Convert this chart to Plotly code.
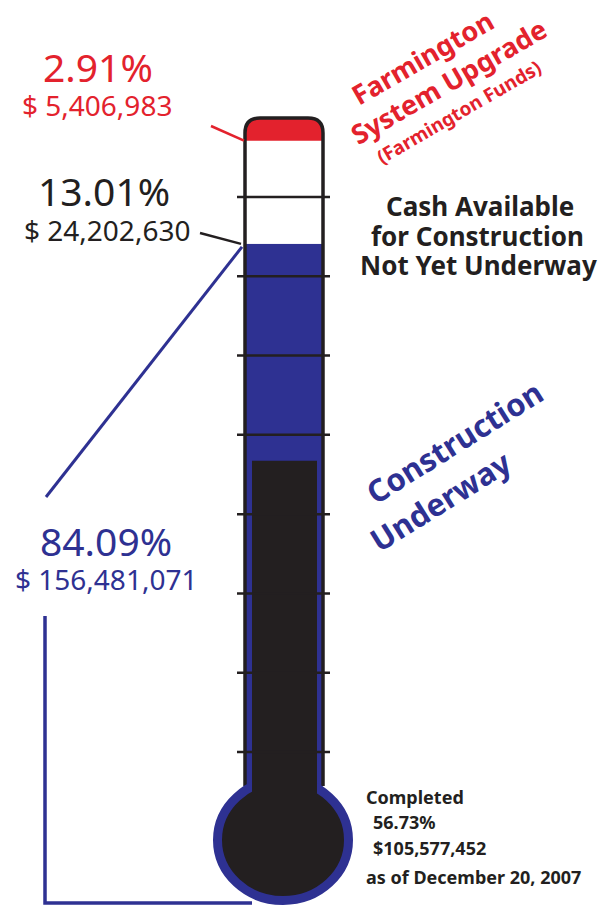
import math
import plotly.graph_objects as go

# ---------------- data ----------------
segment_names = ["Construction Underway",
                 "Cash Available for Construction Not Yet Underway",
                 "Farmington System Upgrade (Farmington Funds)"]
segment_pct = [84.09, 13.01, 2.91]
segment_amount = [156481071, 24202630, 5406983]
completed_pct = 56.73
completed_amount = 105577452
as_of = "December 20, 2007"
tick_levels = [10, 20, 30, 40, 50, 60, 70, 80, 90]

# ---------------- styles ----------------
RED = "#e3222d"
BLUE = "#2e3192"
BLACK = "#231f20"
FONT = "Noto Sans"
W, H = 610, 907

# percent axis: 0% sits at pixel 910.6, 7.929 px per percent
ZERO_PX, PX_PER = 910.6, 7.929
y_range = [(ZERO_PX - H) / PX_PER, ZERO_PX / PX_PER]


def px(p):
    return ZERO_PX - PX_PER * p


seg_colors = [BLUE, "white", RED]
bases = [0.0]
for v in segment_pct[:-1]:
    bases.append(round(bases[-1] + v, 2))

fig = go.Figure()
for name, v, b, c in zip(segment_names, segment_pct, bases, seg_colors):
    fig.add_trace(go.Bar(
        x=[284], y=[v], base=[b], width=[77], name=name,
        marker=dict(color=c, line=dict(width=0)), hoverinfo="skip"))
fig.add_trace(go.Bar(
    x=[284.5], y=[completed_pct], base=[0], width=[65], name="Completed",
    marker=dict(color=BLACK, line=dict(width=0)), hoverinfo="skip"))
# helper trace for the pixel axis
fig.add_trace(go.Scatter(x=[0], y=[0], yaxis="y2", mode="markers",
                         marker=dict(opacity=0), hoverinfo="skip"))

shapes = []
# white masks outside the rounded cap
shapes.append(dict(type="path", xref="x", yref="y2",
                   path="M 260,118 Q 245,118 245,133 L 242,133 L 242,114 L 260,114 Z",
                   fillcolor="white", line=dict(width=0), layer="above"))
shapes.append(dict(type="path", xref="x", yref="y2",
                   path="M 308,118 Q 323,118 323,133 L 326,133 L 326,114 L 308,114 Z",
                   fillcolor="white", line=dict(width=0), layer="above"))
# tube outline
shapes.append(dict(type="path", xref="x", yref="y2",
                   path="M 245,786 L 245,133 Q 245,118 260,118 L 308,118 Q 323,118 323,133 L 323,786",
                   line=dict(color=BLACK, width=3.5), layer="above"))
# scale ticks
for t in tick_levels:
    shapes.append(dict(type="line", xref="x", yref="y", x0=237, x1=330, y0=t, y1=t,
                       line=dict(color=BLACK, width=2.5), layer="above"))
# white mask below the bulb's lower arc
BCX, BCY, BRX, BRY = 283, 840, 70, 65
pts = []
for k in range(0, 21):
    xx = 243 + k * 4
    u = max(-1.0, min(1.0, (xx - BCX) / BRX))
    pts.append(f"{xx},{BCY + BRY * math.sqrt(1 - u * u) - 1:.1f}")
mask_path = "M " + " L ".join(pts) + " L 323,915 L 243,915 Z"
shapes.append(dict(type="path", xref="x", yref="y2", path=mask_path,
                   fillcolor="white", line=dict(width=0), layer="above"))
# bulb
shapes.append(dict(type="circle", xref="x", yref="y2", x0=217.5, x1=348.5, y0=779.5, y1=900.5,
                   fillcolor=BLACK, line=dict(color=BLUE, width=9), layer="above"))
shapes.append(dict(type="rect", xref="x", yref="y2", x0=252, x1=317, y0=765, y1=800,
                   fillcolor=BLACK, line=dict(width=0), layer="above"))
# leader lines
top_red = px(bases[2])
top_blue = px(bases[1])
shapes.append(dict(type="line", xref="x", yref="y2", x0=211, y0=126, x1=244, y1=top_red,
                   line=dict(color=RED, width=2.5), layer="above"))
shapes.append(dict(type="line", xref="x", yref="y2", x0=200, y0=233, x1=241, y1=top_blue,
                   line=dict(color=BLACK, width=2.5), layer="above"))
shapes.append(dict(type="line", xref="x", yref="y2", x0=242, y0=top_blue + 3, x1=46, y1=497,
                   line=dict(color=BLUE, width=3), layer="above"))
shapes.append(dict(type="path", xref="x", yref="y2", path="M 45,616 L 45,903 L 252,903",
                   line=dict(color=BLUE, width=3.5), layer="above"))

ann = []


def txt(x, y, s, size, color, bold=False, angle=0, xanchor="center"):
    ann.append(dict(x=x, y=y, xref="x", yref="y2", text=s, showarrow=False,
                    textangle=angle, xanchor=xanchor, yanchor="middle",
                    font=dict(family=FONT, size=size, color=color,
                              weight="bold" if bold else "normal")))


# left labels
txt(98, 66, f"{segment_pct[2]:.2f}%", 39, RED)
txt(97, 105, f"$ {segment_amount[2]:,}", 28, RED)
txt(104, 190, f"{segment_pct[1]:.2f}%", 39, BLACK)
txt(107, 230, f"$ {segment_amount[1]:,}", 28, BLACK)
txt(106, 540, f"{segment_pct[0]:.2f}%", 39, BLUE)
txt(106, 579, f"$ {segment_amount[0]:,}", 28, BLUE)

# right labels
txt(422, 57, "Farmington", 27, RED, bold=True, angle=-30)
txt(448, 81, "System Upgrade", 27, RED, bold=True, angle=-30)
txt(459, 112, "(Farmington Funds)", 19, RED, bold=True, angle=-30)

txt(480, 206, "Cash Available", 26, BLACK, bold=True)
txt(477, 236, "for Construction", 26, BLACK, bold=True)
txt(478, 265, "Not Yet Underway", 26, BLACK, bold=True)

txt(454, 442, "Construction", 31, BLUE, bold=True, angle=-32)
txt(440, 501, "Underway", 31, BLUE, bold=True, angle=-32)

txt(364, 797, "Completed", 18, BLACK, bold=True, xanchor="left")
txt(371, 822, f"{completed_pct:.2f}%", 18, BLACK, bold=True, xanchor="left")
txt(371, 848, f"${completed_amount:,}", 18, BLACK, bold=True, xanchor="left")
txt(364, 877, f"as of {as_of}", 18, BLACK, bold=True, xanchor="left")

fig.update_layout(
    width=W, height=H, autosize=False,
    margin=dict(l=0, r=0, t=0, b=0, pad=0),
    paper_bgcolor="white", plot_bgcolor="white",
    barmode="overlay", showlegend=False,
    xaxis=dict(range=[0, W], visible=False, fixedrange=True),
    yaxis=dict(range=y_range, visible=False, fixedrange=True),
    yaxis2=dict(range=[H, 0], overlaying="y", visible=False, fixedrange=True),
    shapes=shapes, annotations=ann,
)

fig.write_html("out.html", config={"displayModeBar": False},
               post_script="document.body.style.margin='0';document.body.style.overflow='hidden';")
